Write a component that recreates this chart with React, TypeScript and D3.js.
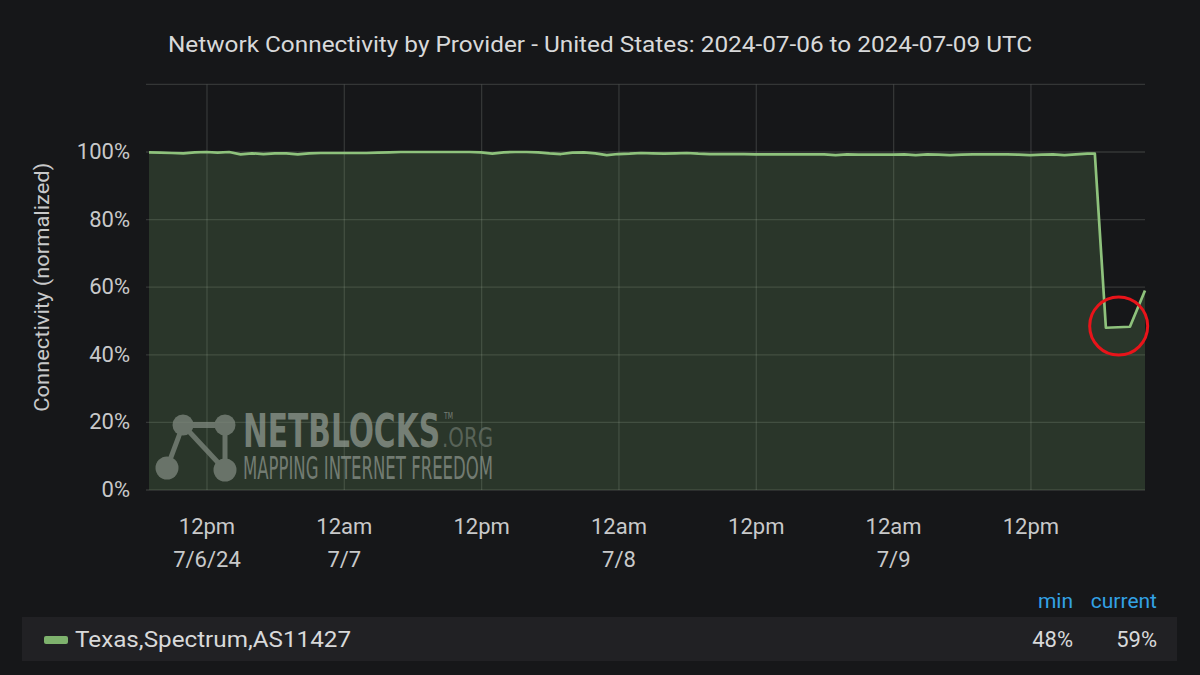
import React from "react";
import * as d3 from "d3";

const TITLE = "Network Connectivity by Provider - United States: 2024-07-06 to 2024-07-09 UTC";
const Y_LABEL = "Connectivity (normalized)";
const SERIES_NAME = "Texas,Spectrum,AS11427";

// hourly readings starting 2024-07-06 06:56 UTC
const FLAT_START = "2024-07-06T06:56:00Z";
const flatValues = [
  99.9, 99.8, 99.7, 99.6, 99.9, 100, 99.8, 100, 99.3, 99.6,
  99.4, 99.6, 99.6, 99.3, 99.6, 99.7, 99.7, 99.7, 99.7, 99.7,
  99.8, 99.9, 100, 100, 100, 100, 100, 100, 100, 99.9,
  99.5, 99.9, 100, 100, 99.9, 99.6, 99.4, 99.8, 99.9, 99.6,
  99.1, 99.4, 99.5, 99.7, 99.6, 99.5, 99.6, 99.7, 99.5, 99.4,
  99.4, 99.4, 99.4, 99.3, 99.3, 99.3, 99.3, 99.3, 99.3, 99.3,
  99.1, 99.3, 99.2, 99.2, 99.2, 99.2, 99.3, 99.1, 99.3, 99.2,
  99.1, 99.2, 99.3, 99.3, 99.3, 99.3, 99.2, 99.1, 99.2, 99.3,
  99.1, 99.3, 99.5,
];
// the outage tail
const tailTimes = ["2024-07-09T17:35:00Z", "2024-07-09T18:33:00Z", "2024-07-09T20:39:00Z", "2024-07-09T21:58:00Z"];
const tailValues = [99.5, 48, 48.3, 59];

const yTicks = [0, 20, 40, 60, 80, 100];
const yGrid = [0, 20, 40, 60, 80, 100, 120];
const xTickTimes = [
  "2024-07-06T12:00:00Z", "2024-07-07T00:00:00Z", "2024-07-07T12:00:00Z", "2024-07-08T00:00:00Z",
  "2024-07-08T12:00:00Z", "2024-07-09T00:00:00Z", "2024-07-09T12:00:00Z",
];
const xTickLine1 = ["12pm", "12am", "12pm", "12am", "12pm", "12am", "12pm"];
const xTickLine2 = ["7/6/24", "7/7", "", "7/8", "", "7/9", ""];

const legendHeaders = ["min", "current"];
const legendValues = ["48%", "59%"];

// highlighted point (circled in red)
const highlightTime = "2024-07-09T19:40:00Z";
const highlightValue = 48.5;

type Pt = { t: Date; v: number };

export default function App() {
  const W = 1200, H = 675;
  const left = 149, right = 1145, top = 84.4, bottom = 490;

  const start = new Date(FLAT_START).getTime();
  const data: Pt[] = flatValues.map((v, i) => ({ t: new Date(start + i * 3600 * 1000), v }));
  tailTimes.forEach((s, i) => data.push({ t: new Date(s), v: tailValues[i] }));

  const x = d3.scaleUtc().domain(d3.extent(data, (d) => d.t) as [Date, Date]).range([left, right]);
  const y = d3.scaleLinear().domain([0, 120]).range([bottom, top]);

  const line = d3.line<Pt>().x((d) => x(d.t)).y((d) => y(d.v));
  const area = d3.area<Pt>().x((d) => x(d.t)).y0(y(0)).y1((d) => y(d.v));

  const font = "Roboto, 'Noto Sans', sans-serif";
  const tickColor = "#c8c9ca";
  const gridColor = "rgba(200,205,200,0.17)";
  const wm = "#7e887e";
  const cond = "'DejaVu Sans Condensed', 'Liberation Sans Narrow', 'DejaVu Sans', sans-serif";

  const hx = x(new Date(highlightTime));
  const hy = y(highlightValue);

  return (
    <svg width={W} height={H} style={{ position: "fixed", left: 0, top: 0, display: "block" }} fontFamily={font}>
      <rect x={0} y={0} width={W} height={H} fill="#161719" />
      <text x={168} y={52} fontSize={22} fill="#d8d9da" textLength={864} lengthAdjust="spacingAndGlyphs">{TITLE}</text>

      {/* grid */}
      {yGrid.map((v) => (
        <line key={"gy" + v} x1={left - 3} x2={right} y1={y(v)} y2={y(v)} stroke={gridColor} strokeWidth={1.3} />
      ))}
      {xTickTimes.map((s) => (
        <line key={"gx" + s} x1={x(new Date(s))} x2={x(new Date(s))} y1={top} y2={bottom} stroke={gridColor} strokeWidth={1.3} />
      ))}

      {/* area */}
      <path d={area(data) || ""} fill="#7eb26d" fillOpacity={0.2} />

      {/* watermark */}
      <g opacity={0.75}>
        <line x1={183} y1={425} x2={225} y2={425} stroke={wm} strokeWidth={6} />
        <line x1={183} y1={425} x2={225} y2={470} stroke={wm} strokeWidth={5} />
        <line x1={225} y1={425} x2={225} y2={470} stroke={wm} strokeWidth={5} />
        <line x1={167} y1={468} x2={183} y2={425} stroke={wm} strokeWidth={5} />
        <circle cx={183} cy={425} r={10.5} fill={wm} />
        <circle cx={225} cy={425} r={10.5} fill={wm} />
        <circle cx={167} cy={468} r={11.5} fill={wm} />
        <circle cx={225} cy={470} r={11.5} fill={wm} />
        <text fontFamily={cond}>
          <tspan x={243} y={447} fontWeight="bold" fontSize={46} fill="#8f988f" textLength={197} lengthAdjust="spacingAndGlyphs">NETBLOCKS</tspan>
          <tspan x={442} y={447} fontSize={26} fill="#687268" textLength={51} lengthAdjust="spacingAndGlyphs">.ORG</tspan>
          <tspan x={444} y={419} fontFamily="'DejaVu Sans', sans-serif" fontSize={8} fill="#8f988f" textLength={9} lengthAdjust="spacingAndGlyphs">TM</tspan>
          <tspan x={243} y={479} fontWeight={300} fontSize={32} fill="#8a938a" textLength={250} lengthAdjust="spacingAndGlyphs">MAPPING INTERNET FREEDOM</tspan>
        </text>
      </g>

      {/* line */}
      <path d={line(data) || ""} fill="none" stroke="#8ec27c" strokeWidth={2.7} strokeLinejoin="round" />

      {/* highlight */}
      <circle cx={hx} cy={hy} r={29} fill="none" stroke="#e8141a" strokeWidth={3} />

      {/* y axis */}
      {yTicks.map((v) => (
        <text key={"yt" + v} x={130} y={y(v) + 7} textAnchor="end" fontSize={22} fill={tickColor}>{v}%</text>
      ))}
      <text transform={`translate(49,${(top + bottom) / 2}) rotate(-90)`} textAnchor="middle" fontSize={21} fill={tickColor} textLength={249} lengthAdjust="spacingAndGlyphs">{Y_LABEL}</text>

      {/* x axis */}
      {xTickTimes.map((s, i) => {
        const xx = x(new Date(s));
        return (
          <g key={"xt" + s}>
            <text x={xx} y={534} textAnchor="middle" fontSize={22} fill={tickColor}>{xTickLine1[i]}</text>
            {xTickLine2[i] && <text x={xx} y={567} textAnchor="middle" fontSize={22} fill={tickColor}>{xTickLine2[i]}</text>}
          </g>
        );
      })}

      {/* legend */}
      <text x={1073} y={608} textAnchor="end" fontSize={21} fill="#33a2e5">{legendHeaders[0]}</text>
      <text x={1157} y={608} textAnchor="end" fontSize={21} fill="#33a2e5">{legendHeaders[1]}</text>
      <rect x={22} y={617} width={1155} height={44} fill="#212124" />
      <rect x={44} y={636} width={24} height={8} rx={2} fill="#7eb26d" />
      <text x={75} y={647} fontSize={22} fill="#d8d9da" textLength={276} lengthAdjust="spacingAndGlyphs">{SERIES_NAME}</text>
      <text x={1073} y={647} textAnchor="end" fontSize={22} fill="#d8d9da">{legendValues[0]}</text>
      <text x={1157} y={647} textAnchor="end" fontSize={22} fill="#d8d9da">{legendValues[1]}</text>
    </svg>
  );
}
